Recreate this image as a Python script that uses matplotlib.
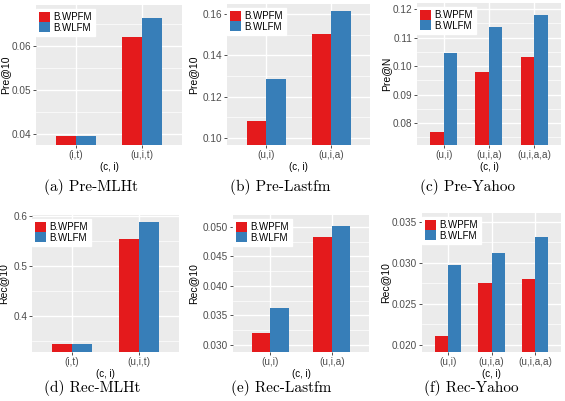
import matplotlib

matplotlib.use("Agg")

import matplotlib.pyplot as plt
from matplotlib.ticker import MultipleLocator

W, H = 565, 401

# ---- data ----
labels = ["B.WPFM", "B.WLFM"]
colors = ["#E41A1C", "#377EB8"]

cats_mlht = ["(i,t)", "(u,i,t)"]
cats_lastfm = ["(u,i)", "(u,i,a)"]
cats_yahoo = ["(u,i)", "(u,i,a)", "(u,i,a,a)"]

pre_mlht_wpfm = [0.0395, 0.0621]
pre_mlht_wlfm = [0.0395, 0.0663]
pre_lastfm_wpfm = [0.1082, 0.1504]
pre_lastfm_wlfm = [0.1286, 0.1615]
pre_yahoo_wpfm = [0.0768, 0.0979, 0.1032]
pre_yahoo_wlfm = [0.1046, 0.1136, 0.1180]

rec_mlht_wpfm = [0.345, 0.554]
rec_mlht_wlfm = [0.344, 0.588]
rec_lastfm_wpfm = [0.0320, 0.0482]
rec_lastfm_wlfm = [0.0362, 0.0502]
rec_yahoo_wpfm = [0.0210, 0.0276, 0.0280]
rec_yahoo_wlfm = [0.0297, 0.0312, 0.0332]

# 每个面板：像素框 (left, top, right, bottom)、ylim、主刻度步长、ylabel 像素 x、标题
panels = [
    dict(box=(36, 5, 182, 145), cats=cats_mlht, a=pre_mlht_wpfm, b=pre_mlht_wlfm,
         ylim=(0.0375, 0.0693), step=0.01, fmt="{:.2f}", ylabel="Pre@10", ylx=10,
         cap="(a) Pre-MLHt", capx=91, capy=187),
    dict(box=(227, 4, 370, 145), cats=cats_lastfm, a=pre_lastfm_wpfm, b=pre_lastfm_wlfm,
         ylim=(0.0966, 0.1648), step=0.02, fmt="{:.2f}", ylabel="Pre@10", ylx=198,
         cap="(b) Pre-Lastfm", capx=280, capy=187),
    dict(box=(417, 3, 561, 145), cats=cats_yahoo, a=pre_yahoo_wpfm, b=pre_yahoo_wlfm,
         ylim=(0.0723, 0.1221), step=0.01, fmt="{:.2f}", ylabel="Pre@N", ylx=391,
         cap="(c) Pre-Yahoo", capx=468, capy=187),
    dict(box=(32, 215, 179, 352), cats=cats_mlht, a=rec_mlht_wpfm, b=rec_mlht_wlfm,
         ylim=(0.328, 0.602), step=0.1, fmt="{:.1f}", ylabel="Rec@10", ylx=8.5,
         cap="(d) Rec-MLHt", capx=92, capy=388),
    dict(box=(233, 215, 369, 352), cats=cats_lastfm, a=rec_lastfm_wpfm, b=rec_lastfm_wlfm,
         ylim=(0.0288, 0.0520), step=0.005, fmt="{:.3f}", ylabel="Rec@10", ylx=198,
         cap="(e) Rec-Lastfm", capx=281, capy=388),
    dict(box=(422, 213, 561, 352), cats=cats_yahoo, a=rec_yahoo_wpfm, b=rec_yahoo_wlfm,
         ylim=(0.0191, 0.0361), step=0.005, fmt="{:.3f}", ylabel="Rec@10", ylx=390,
         cap="(f) Rec-Yahoo", capx=471, capy=388),
]

plt.rcParams["font.family"] = ["Liberation Sans", "DejaVu Sans"]

fig = plt.figure(figsize=(W / 100, H / 100), dpi=100)
fig.patch.set_facecolor("white")

for p in panels:
    l, t, r, b = p["box"]
    ax = fig.add_axes([l / W, 1 - b / H, (r - l) / W, (b - t) / H])
    ax.set_facecolor("#EBEBEB")
    n = len(p["cats"])
    xs = list(range(n))
    ax.bar([x - 0.15 for x in xs], p["a"], width=0.3, color=colors[0], label=labels[0], zorder=3)
    ax.bar([x + 0.15 for x in xs], p["b"], width=0.3, color=colors[1], label=labels[1], zorder=3)
    ax.set_xlim(-0.6, n - 1 + 0.6)
    ax.set_ylim(*p["ylim"])
    ax.yaxis.set_major_locator(MultipleLocator(p["step"]))
    ax.yaxis.set_minor_locator(MultipleLocator(p["step"] / 2))
    ax.yaxis.set_major_formatter(plt.FuncFormatter(lambda v, _, f=p["fmt"]: f.format(v)))
    ax.set_xticks(xs)
    ax.set_xticklabels(p["cats"])

    ax.grid(True, which="major", color="white", linewidth=1.0, zorder=0)
    ax.grid(True, which="minor", axis="y", color="white", linewidth=0.5, zorder=0)
    ax.set_axisbelow(True)
    for s in ax.spines.values():
        s.set_visible(False)
    ax.tick_params(which="major", length=2, width=0.6, color="#333333",
                   labelsize=7.2, labelcolor="#4D4D4D", pad=1.5)
    ax.tick_params(which="minor", length=0)

    ax.set_xlabel("(c, i)", fontsize=7, color="black")
    ax.xaxis.set_label_coords(0.5, -17 / (b - t))
    ax.set_ylabel(p["ylabel"], fontsize=7.5, color="black")
    ax.yaxis.set_label_coords((p["ylx"] - l) / (r - l), 0.5)

    leg = ax.legend(loc="upper left", bbox_to_anchor=(0.0, 1 - 4 / (b - t)),
                    fontsize=7, frameon=True, fancybox=False, borderaxespad=0,
                    handlelength=1.13, handleheight=1.13, handletextpad=0.28,
                    labelspacing=0.0, borderpad=0.35)
    leg.get_frame().set_facecolor("white")
    leg.get_frame().set_edgecolor("white")
    leg.get_frame().set_alpha(1)

    fig.text(p["capx"] / W, 1 - p["capy"] / H, p["cap"], fontsize=11,
             family="cmr10", ha="center", va="center")

fig.savefig("out.png", dpi=100)
